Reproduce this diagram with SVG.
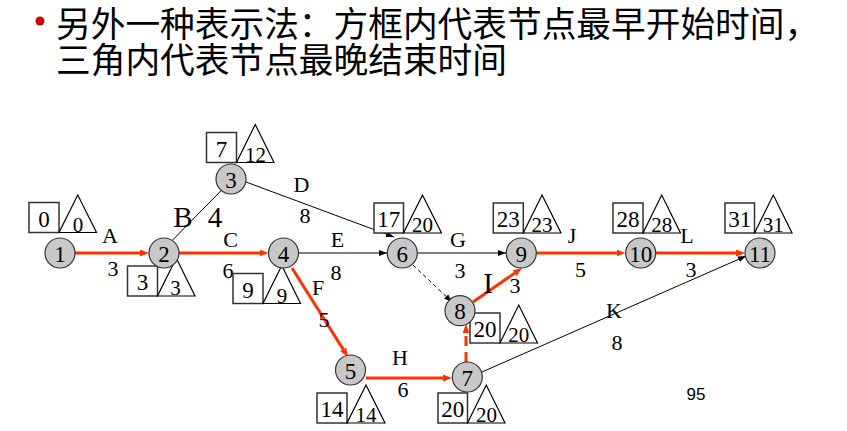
<svg xmlns="http://www.w3.org/2000/svg" width="847" height="431" viewBox="0 0 847 431">
<defs>
<style>
.title{font-family:"Noto Sans CJK SC","Noto Sans",sans-serif;font-size:34.7px;fill:#000}
.nd circle{fill:#C8C8C8;stroke:#333;stroke-width:1.2}
.nd rect{fill:#fff;stroke:#333;stroke-width:1.5}
.nd polygon{fill:none;stroke:#000;stroke-width:1.2}
.num{font-family:"Liberation Serif",serif;font-size:23px;text-anchor:middle;fill:#000}
.bx{font-family:"Liberation Serif",serif;font-size:23px;text-anchor:middle;fill:#000}
.tr{font-family:"Liberation Serif",serif;font-size:21px;text-anchor:middle;fill:#000}
.lb{font-family:"Liberation Serif",serif;font-size:22px;text-anchor:middle;fill:#000}
.big{font-family:"Liberation Serif",serif;font-size:29px;text-anchor:middle;fill:#000}
.red{stroke:#FF3300;stroke-width:3;fill:none;marker-end:url(#ar)}
.blk{stroke:#000;stroke-width:1;fill:none}
.blka{stroke:#000;stroke-width:1;fill:none;marker-end:url(#ab)}
</style>
<marker id="ar" markerUnits="userSpaceOnUse" markerWidth="10" markerHeight="8" refX="3" refY="3.5" orient="auto"><path d="M0,0 L9,3.5 L0,7 z" fill="#FF3300"/></marker>
<marker id="ab" markerUnits="userSpaceOnUse" markerWidth="9" markerHeight="7" refX="8" refY="3" orient="auto"><path d="M0,0 L8,3 L0,6 z" fill="#000"/></marker>
</defs>
<rect width="847" height="431" fill="#fff"/>
<g id="title">
<circle cx="40" cy="21" r="4.5" fill="#CC0000"/>
<text class="title" x="56" y="37">另外一种表示法：方框内代表节点最早开始时间，</text>
<text class="title" x="56" y="73">三角内代表节点最晚结束时间</text>
</g>
<g id="connectors">
<line class="red" x1="75" y1="253" x2="143" y2="253"/>
<line class="red" x1="179" y1="253" x2="262.5" y2="253"/>
<line class="blk" x1="171.7" y1="241" x2="221.7" y2="190"/>
<line class="blka" x1="246" y1="182" x2="394" y2="237"/>
<line class="blka" x1="298.5" y1="253" x2="387" y2="253"/>
<line class="red" x1="292" y1="268" x2="344.8" y2="351.9"/>
<line class="red" x1="366" y1="378" x2="446" y2="378"/>
<line class="blka" x1="417.3" y1="253" x2="506" y2="253"/>
<line class="blka" x1="413" y1="265" x2="452" y2="302" stroke-dasharray="4,3"/>
<line class="red" x1="466" y1="362" x2="466" y2="330" stroke-dasharray="10,6"/>
<line class="red" x1="473" y1="302" x2="517.1" y2="271.4"/>
<line class="red" x1="536.3" y1="253" x2="619.5" y2="253"/>
<line class="red" x1="655.7" y1="253" x2="739" y2="253"/>
<line class="blka" x1="482" y1="372" x2="746" y2="256"/>
<text class="lb" x="110" y="243">A</text><text class="lb" x="113" y="276">3</text>
<text class="big" x="183" y="227">B</text><text class="big" x="215" y="227">4</text>
<text class="lb" x="230.5" y="247">C</text><text class="lb" x="228" y="278">6</text>
<text class="lb" x="301.5" y="191.5">D</text><text class="lb" x="305" y="223">8</text>
<text class="lb" x="337.5" y="247">E</text><text class="lb" x="336" y="280">8</text>
<text class="lb" x="318" y="295">F</text><text class="lb" x="324" y="327">5</text>
<text class="lb" x="458" y="247">G</text><text class="lb" x="460" y="278">3</text>
<text class="lb" x="400" y="365">H</text><text class="lb" x="403" y="397">6</text>
<text class="big" x="488" y="293">I</text><text class="lb" x="515" y="293">3</text>
<text class="lb" x="572" y="243">J</text><text class="lb" x="580.5" y="277">5</text>
<text class="lb" x="687" y="243">L</text><text class="lb" x="691" y="277">3</text>
<text class="lb" x="614" y="318">K</text><text class="lb" x="617" y="350">8</text>
</g>
<g id="n1" class="nd">
<rect x="29" y="202.5" width="30" height="30"/><polygon points="59,232.5 96.5,232.5 77.75,195"/>
<text class="bx" x="44" y="226.5">0</text><text class="tr" x="78" y="231.5">0</text>
<circle cx="60" cy="253" r="15"/><text class="num" x="60" y="261.5">1</text>
</g>
<g id="n2" class="nd">
<rect x="127.5" y="266" width="30" height="30"/><polygon points="157.5,296 195,296 176.25,258"/>
<text class="bx" x="142.5" y="290">3</text><text class="tr" x="175.5" y="295">3</text>
<circle cx="164" cy="253" r="15"/><text class="num" x="164" y="261.5">2</text>
</g>
<g id="n3" class="nd">
<rect x="206.5" y="132.5" width="30" height="30"/><polygon points="236.5,162.5 274,162.5 255.25,124.5"/>
<text class="bx" x="221.5" y="156.5">7</text><text class="tr" x="255.5" y="161.5">12</text>
<circle cx="231" cy="179" r="15"/><text class="num" x="231" y="187.5">3</text>
</g>
<g id="n4" class="nd">
<rect x="233" y="273.5" width="30" height="30"/><polygon points="263,303.5 300.5,303.5 281.75,265.5"/>
<text class="bx" x="248" y="297.5">9</text><text class="tr" x="282" y="302.5">9</text>
<circle cx="283.5" cy="253" r="15"/><text class="num" x="283.5" y="261.5">4</text>
</g>
<g id="n5" class="nd">
<rect x="317" y="393" width="30" height="30"/><polygon points="347,423 385,423 366,385"/>
<text class="bx" x="332" y="417">14</text><text class="tr" x="366" y="422">14</text>
<circle cx="350.5" cy="370" r="15"/><text class="num" x="350.5" y="378.5">5</text>
</g>
<g id="n6" class="nd">
<rect x="374" y="203" width="29.5" height="30"/><polygon points="403.5,233 441.5,233 422.5,195"/>
<text class="bx" x="388.7" y="227">17</text><text class="tr" x="422.5" y="232">20</text>
<circle cx="402.3" cy="253" r="15"/><text class="num" x="402.3" y="261.5">6</text>
</g>
<g id="n7" class="nd">
<rect x="438" y="393" width="29.5" height="30"/><polygon points="467.5,423 505,423 486.25,385"/>
<text class="bx" x="452.7" y="417">20</text><text class="tr" x="486.5" y="422">20</text>
<circle cx="467.3" cy="377" r="15"/><text class="num" x="467.3" y="385.5">7</text>
</g>
<g id="n8" class="nd">
<rect x="470" y="313" width="30" height="30"/><polygon points="500,343 537.5,343 518.75,305"/>
<text class="bx" x="485" y="337">20</text><text class="tr" x="518.7" y="342">20</text>
<circle cx="460" cy="310.7" r="15"/><text class="num" x="460" y="319.2">8</text>
</g>
<g id="n9" class="nd">
<rect x="493.3" y="203" width="30" height="30"/><polygon points="523.3,233 561,233 542,195"/>
<text class="bx" x="508.3" y="227">23</text><text class="tr" x="542" y="232">23</text>
<circle cx="521.3" cy="253" r="15"/><text class="num" x="521.3" y="261.5">9</text>
</g>
<g id="n10" class="nd">
<rect x="613" y="203" width="30" height="30"/><polygon points="643,233 680.5,233 661.7,195"/>
<text class="bx" x="628" y="227">28</text><text class="tr" x="661.7" y="232">28</text>
<circle cx="640.7" cy="253" r="15"/><text class="num" x="640.7" y="261.5">10</text>
</g>
<g id="n11" class="nd">
<rect x="725" y="203" width="29.5" height="30"/><polygon points="754.5,233 792,233 773.3,195"/>
<text class="bx" x="739.8" y="227">31</text><text class="tr" x="773.3" y="232">31</text>
<circle cx="760" cy="253" r="15"/><text class="num" x="760" y="261.5">11</text>
</g>
<text x="696" y="400" font-family="Liberation Sans, Arial, sans-serif" font-size="17" text-anchor="middle" fill="#000">95</text>
</svg>
